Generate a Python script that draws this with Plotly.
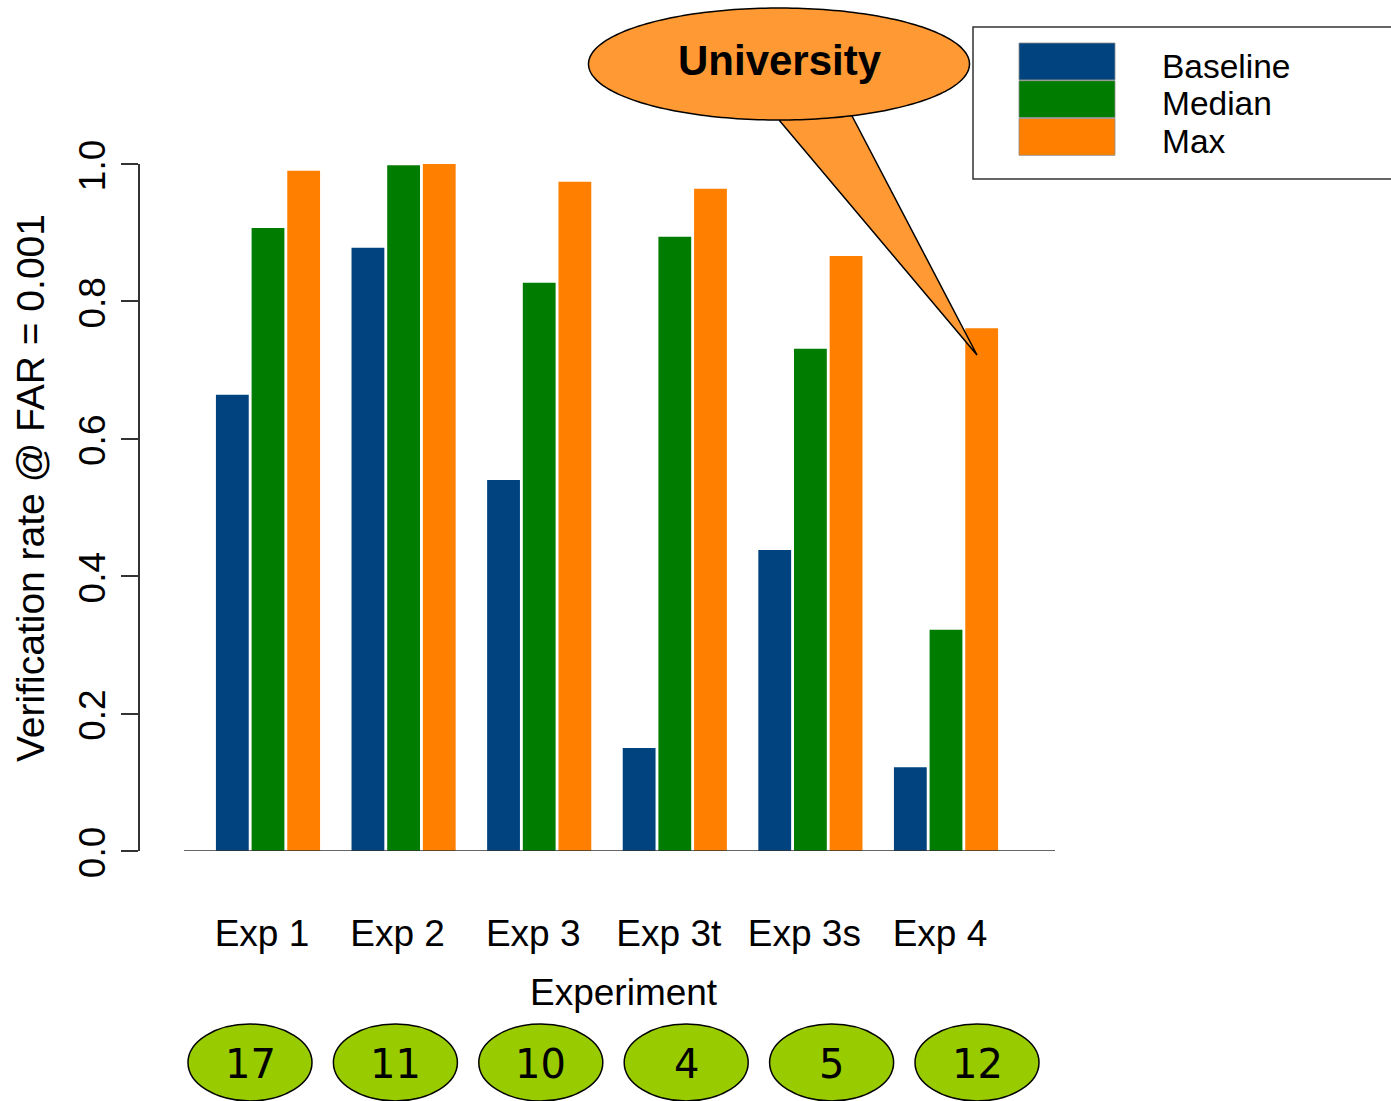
import numpy as np
import plotly.graph_objects as go

# ---- data ----
categories = ["Exp 1", "Exp 2", "Exp 3", "Exp 3t", "Exp 3s", "Exp 4"]
series_names = ["Baseline", "Median", "Max"]
baseline = [0.664, 0.878, 0.540, 0.150, 0.438, 0.122]
median = [0.907, 0.998, 0.827, 0.894, 0.731, 0.322]
maximum = [0.990, 1.000, 0.974, 0.964, 0.866, 0.761]
counts = ["17", "11", "10", "4", "5", "12"]
y_ticks = [0.0, 0.2, 0.4, 0.6, 0.8, 1.0]
colors = ["#00437f", "#007c00", "#ff8000"]
callout_text = "University"

# ---- layout geometry (pixels) ----
W, H = 1391, 1101
L, R_EDGE, T, B = 140, 1055, 164, 851
PW, PH = R_EDGE - L, B - T


def px_x(p):
    return (p - L) / PW


def px_y(p):
    return (B - p) / PH


FONT = "Liberation Sans, Arial, sans-serif"

fig = go.Figure()
for name, vals, col in zip(series_names, [baseline, median, maximum], colors):
    fig.add_trace(go.Bar(x=categories, y=vals, name=name, marker=dict(color=col, line=dict(width=0)),
                         showlegend=False))

shapes = []
annotations = []

# x axis baseline line
shapes.append(dict(type="line", xref="paper", yref="y", x0=px_x(184), x1=1.0, y0=0, y1=0,
                   line=dict(color="#333333", width=1.5)))

# legend box
shapes.append(dict(type="rect", xref="paper", yref="paper", x0=px_x(973), x1=px_x(1405),
                   y0=px_y(179), y1=px_y(27), line=dict(color="#333333", width=1.5),
                   fillcolor="white", layer="above"))
row_h = 37.7
for i, (name, col) in enumerate(zip(series_names, colors)):
    top = 43 + i * row_h
    shapes.append(dict(type="rect", xref="paper", yref="paper", x0=px_x(1019), x1=px_x(1115),
                       y0=px_y(top + row_h - 0.8), y1=px_y(top), line=dict(color="#8a8a8a", width=0.8),
                       fillcolor=col, layer="above"))
    annotations.append(dict(text=name, xref="paper", yref="paper", x=px_x(1160), y=px_y(top + 23),
                            xanchor="left", yanchor="middle", showarrow=False,
                            font=dict(family=FONT, size=33.5, color="black")))

# callout bubble (ellipse + tail) as one path
cx, cy, rx, ry = 779, 64, 190.5, 56
angles = np.linspace(np.deg2rad(67.5), np.deg2rad(90) + 2 * np.pi, 240)
pts = [(cx + rx * np.cos(a), cy + ry * np.sin(a)) for a in angles]
tip = (977, 355)
pts.append(tip)
path = "M " + " L ".join(f"{px_x(x):.5f},{px_y(y):.5f}" for x, y in pts) + " Z"
shapes.append(dict(type="path", xref="paper", yref="paper", path=path, fillcolor="#ff9933",
                   line=dict(color="black", width=1.5), layer="above"))
annotations.append(dict(text="<b>" + callout_text + "</b>", xref="paper", yref="paper",
                        x=px_x(780), y=px_y(60), xanchor="center", yanchor="middle", showarrow=False,
                        font=dict(family=FONT, size=42, color="black")))

# green count ellipses
for i, c in enumerate(counts):
    ex = 250 + i * 145.4
    shapes.append(dict(type="circle", xref="paper", yref="paper", x0=px_x(ex - 62), x1=px_x(ex + 62),
                       y0=px_y(1101), y1=px_y(1024), fillcolor="#99cc00",
                       line=dict(color="black", width=1.5), layer="above"))
    annotations.append(dict(text=c, xref="paper", yref="paper", x=px_x(ex), y=px_y(1064),
                            xanchor="center", yanchor="middle", showarrow=False,
                            font=dict(family="DejaVu Sans, sans-serif", size=40, color="black")))

# axis titles
annotations.append(dict(text="Verification rate @ FAR = 0.001", xref="paper", yref="paper",
                        x=px_x(30), y=px_y(488), textangle=-90, xanchor="center", yanchor="middle",
                        showarrow=False, font=dict(family=FONT, size=39, color="black")))
annotations.append(dict(text="Experiment", xref="paper", yref="paper", x=px_x(624), y=px_y(992),
                        xanchor="center", yanchor="middle", showarrow=False,
                        font=dict(family=FONT, size=37, color="black")))

group_px = 135.6
center0 = 268
fig.update_layout(
    width=W, height=H, autosize=False,
    margin=dict(l=L, r=W - R_EDGE, t=T, b=H - B, pad=0),
    paper_bgcolor="white", plot_bgcolor="white",
    barmode="group", bargap=0.211, bargroupgap=0.08,
    shapes=shapes, annotations=annotations,
    font=dict(family=FONT, size=37, color="black"),
    xaxis=dict(type="category", range=[(L - center0) / group_px, (R_EDGE - center0) / group_px],
               showline=False, showgrid=False, zeroline=False, ticks="",
               tickfont=dict(family=FONT, size=37, color="black"),
               ticklabelshift=-6, ticklabelstandoff=57),
    yaxis=dict(range=[0, 1], showline=True, linecolor="#333333", linewidth=1.5,
               showgrid=False, zeroline=False, ticks="outside", ticklen=17, tickwidth=1.5,
               tickcolor="#333333", tickvals=y_ticks, ticktext=[f"{v:.1f}" for v in y_ticks],
               tickangle=-90, tickfont=dict(family=FONT, size=37, color="black"),
               ticklabelstandoff=1, ticklabelshift=7),
    showlegend=False,
)

fig.write_html("out.html", config={"displayModeBar": False},
               post_script="document.body.style.margin='0';document.body.style.overflow='hidden';")
